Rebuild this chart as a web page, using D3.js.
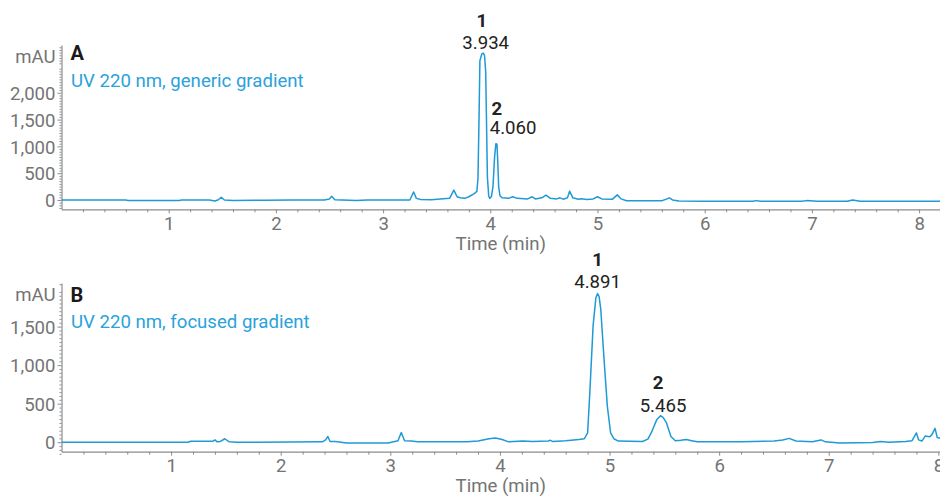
<!DOCTYPE html>
<html>
<head>
<meta charset="utf-8">
<script src="https://cdn.jsdelivr.net/npm/d3@7"></script>
<style>
  body { margin: 0; background: #fff; }
  svg text { font-family: Roboto, "Noto Sans", sans-serif; }
</style>
</head>
<body>
<div id="chart"></div>
<script>
// trace A: UV 220 nm, generic gradient  (time in min, absorbance in mAU)
let timeA = [0, 0.6, 0.62, 1.1, 1.12, 1.38, 1.43, 1.46, 1.49, 1.52, 1.6, 1.9, 2.15, 2.45, 2.5, 2.52, 2.55, 2.75, 2.85,
	3.25, 3.285, 3.31, 3.35, 3.45, 3.62, 3.66, 3.69, 3.72, 3.76, 3.8, 3.85, 3.875, 3.885, 3.895, 3.903, 3.92, 3.934,
	3.946, 3.957, 3.964, 3.973, 3.985, 3.994, 4.01, 4.025, 4.04, 4.052, 4.062, 4.07, 4.078, 4.09, 4.11, 4.17, 4.21,
	4.25, 4.35, 4.39, 4.42, 4.48, 4.52, 4.56, 4.62, 4.65, 4.68, 4.72, 4.74, 4.77, 4.82, 4.85, 4.9, 4.96, 5.0, 5.04,
	5.14, 5.185, 5.22, 5.27, 5.6, 5.65, 5.67, 5.7, 5.76, 6.0, 6.45, 6.48, 6.52, 6.9, 6.95, 7.05, 7.33, 7.38, 7.45, 8.2]
let mauA = [0, 0, -8, -8, 0, 0, -20, 0, 50, 0, -8, -5, 0, 0, 20, 70, 5, -10, 0,
	0, 150, 30, 10, 5, 30, 185, 60, 40, 30, 60, 120, 160, 400, 1540, 2600, 2720, 2740,
	2700, 2400, 1540, 430, 80, 30, 60, 250, 800, 1050, 1040, 700, 250, 80, 40, 30, 60,
	30, 20, 60, 20, 40, 90, 30, 20, 40, 15, 40, 165, 40, 15, 25, 10, 20, 60, 20,
	15, 95, 20, -15, -15, 20, 40, 0, -20, -25, -25, -12, -25, -25, -12, -25, -25, 0, -25, -25]

// trace B: UV 220 nm, focused gradient
let timeB = [0, 1.15, 1.18, 1.38, 1.4, 1.42, 1.45, 1.49, 1.53, 1.6, 2.38, 2.41, 2.43, 2.45, 2.5, 2.55, 2.6, 2.98,
	3.07, 3.1, 3.13, 3.19, 3.25, 3.7, 3.8, 3.9, 3.96, 4.02, 4.08, 4.21, 4.3, 4.44, 4.46, 4.48, 4.6, 4.72, 4.77,
	4.8, 4.82, 4.85, 4.875, 4.891, 4.905, 4.92, 4.95, 4.98, 5.01, 5.04, 5.08, 5.3, 5.35, 5.38, 5.43, 5.465, 5.49,
	5.52, 5.56, 5.6, 5.65, 5.7, 5.75, 5.8, 6.2, 6.5, 6.58, 6.64, 6.7, 6.85, 6.93, 6.97, 7.1, 7.4, 7.47, 7.55, 7.7,
	7.76, 7.8, 7.82, 7.85, 7.88, 7.92, 7.94, 7.97, 7.99, 8.02]
let mauB = [0, 0, 12, 12, 30, 5, 10, 45, 5, 0, 5, 30, 75, 10, 10, 0, -10, -10,
	20, 125, 20, 15, 5, 5, 15, 45, 55, 35, 5, 15, 10, 15, 25, 10, 20, 35, 45,
	120, 640, 1510, 1870, 1930, 1890, 1725, 1075, 465, 120, 45, 15, 10, 40, 120, 290, 345, 320,
	250, 75, 20, 25, 35, 20, 5, 5, 15, 30, 50, 15, 5, 30, 5, -10, -5, 10, 0, 10,
	20, 120, 30, 15, 80, 70, 95, 180, 60, 50]

let yTicksA = [0, 500, 1000, 1500, 2000]
let yTicksB = [0, 500, 1000, 1500]
let xTicks = [1, 2, 3, 4, 5, 6, 7, 8]

let peaksA = [{ n: '1', t: 3.934, label: '3.934' }, { n: '2', t: 4.060, label: '4.060' }]
let peaksB = [{ n: '1', t: 4.891, label: '4.891' }, { n: '2', t: 5.465, label: '5.465' }]

let W = 940
let H = 497
let lineColor = '#1e9ad6'
let axisColor = '#8c8c8c'
let labelColor = '#747474'
let fontSize = 18.6

let svg = d3.select('#chart').append('svg')
	.attr('width', W)
	.attr('height', H)

let panels = [
	{
		letter: 'A', title: 'UV 220 nm, generic gradient',
		time: timeA, mau: mauA, yTicks: yTicksA, peaks: peaksA,
		xDomain: [0, 8.195], xRange: [61.5, 940],
		yDomain: [-174, 2892], yRange: [209.3, 45],
		peakOffsets: [{ nx: -1.5, lx: 2.5, ny: 27, ly: 48.7, anchor: 'middle' }, { nx: 0, lx: -7, ny: 115, ly: 134.3, anchor: 'start' }],
		letterY: 60, titleY: 87, mauY: 63.3
	},
	{
		letter: 'B', title: 'UV 220 nm, focused gradient',
		time: timeB, mau: mauB, yTicks: yTicksB, peaks: peaksB,
		xDomain: [0, 8.015], xRange: [61.5, 940],
		yDomain: [-123, 2066], yRange: [451.7, 283],
		peakOffsets: [{ nx: 0, lx: 0, ny: 266, ly: 287.7, anchor: 'middle' }, { nx: -2.5, lx: 2.5, ny: 389.3, ly: 411.7, anchor: 'middle' }],
		letterY: 301.7, titleY: 328.3, mauY: 301
	}
]

panels.forEach(p => {
	let x = d3.scaleLinear().domain(p.xDomain).range(p.xRange)
	let y = d3.scaleLinear().domain(p.yDomain).range(p.yRange)
	let g = svg.append('g')
	let baseY = p.yRange[0]

	// minor ticks
	let xMinor = d3.range(0.2, p.xDomain[1], 0.2).filter(v => Math.abs(v - Math.round(v)) > 0.01)
	g.append('g')
		.attr('transform', `translate(0,${baseY})`)
		.call(d3.axisBottom(x).tickValues(xMinor).tickSize(3).tickFormat(''))
		.call(a => a.select('.domain').remove())
		.call(a => a.selectAll('line').attr('stroke', axisColor))

	let yMinor = d3.range(-150, p.yDomain[1], 50).filter(v => v % 500 !== 0)
	g.append('g')
		.attr('transform', `translate(${p.xRange[0]},0)`)
		.call(d3.axisLeft(y).tickValues(yMinor).tickSize(2).tickFormat(''))
		.call(a => a.select('.domain').remove())
		.call(a => a.selectAll('line').attr('stroke', axisColor))

	// x axis
	let xAxis = g.append('g')
		.attr('transform', `translate(0,${baseY})`)
		.call(d3.axisBottom(x).tickValues(xTicks).tickSize(4).tickSizeOuter(0).tickPadding(3).tickFormat(d3.format('d')))
	xAxis.select('.domain').attr('stroke', axisColor).attr('stroke-width', 1.2)
	xAxis.selectAll('line').attr('stroke', axisColor)
	xAxis.selectAll('text').attr('fill', labelColor).attr('font-size', fontSize).attr('dy', '0.72em')

	// y axis
	let yAxis = g.append('g')
		.attr('transform', `translate(${p.xRange[0]},0)`)
		.call(d3.axisLeft(y).tickValues(p.yTicks).tickSize(4).tickSizeOuter(0).tickPadding(2).tickFormat(d3.format(',')))
	yAxis.select('.domain').attr('stroke', axisColor).attr('stroke-width', 1.2)
	yAxis.selectAll('line').attr('stroke', axisColor)
	yAxis.selectAll('text').attr('fill', labelColor).attr('font-size', fontSize).attr('dy', '0.36em')

	g.append('text')
		.attr('x', p.xRange[0] - 6)
		.attr('y', p.mauY)
		.attr('text-anchor', 'end')
		.attr('fill', labelColor)
		.attr('font-size', fontSize)
		.text('mAU')

	g.append('text')
		.attr('x', (p.xRange[0] + W) / 2)
		.attr('y', baseY + 40.6)
		.attr('text-anchor', 'middle')
		.attr('fill', labelColor)
		.attr('font-size', fontSize)
		.text('Time (min)')

	// trace
	let pts = p.time.map((t, i) => [t, p.mau[i]])
	g.append('path')
		.datum(pts)
		.attr('fill', 'none')
		.attr('stroke', lineColor)
		.attr('stroke-width', 1.5)
		.attr('stroke-linejoin', 'round')
		.attr('d', d3.line().x(d => x(d[0])).y(d => y(d[1])))

	g.append('text')
		.attr('x', 70.5)
		.attr('y', p.letterY)
		.attr('font-size', 20)
		.attr('font-weight', 'bold')
		.attr('fill', '#1a1a1a')
		.text(p.letter)

	g.append('text')
		.attr('x', 71)
		.attr('y', p.titleY)
		.attr('font-size', fontSize)
		.attr('fill', '#2aa2db')
		.text(p.title)

	// peak labels
	p.peaks.forEach((pk, i) => {
		let o = p.peakOffsets[i]
		g.append('text')
			.attr('x', x(pk.t) + o.nx)
			.attr('y', o.ny)
			.attr('text-anchor', 'middle')
			.attr('font-size', fontSize)
			.attr('font-weight', 'bold')
			.attr('fill', '#222')
			.text(pk.n)
		g.append('text')
			.attr('x', x(pk.t) + o.lx)
			.attr('y', o.ly)
			.attr('text-anchor', o.anchor)
			.attr('font-size', fontSize)
			.attr('fill', '#222')
			.text(pk.label)
	})
})
</script>
</body>
</html>
